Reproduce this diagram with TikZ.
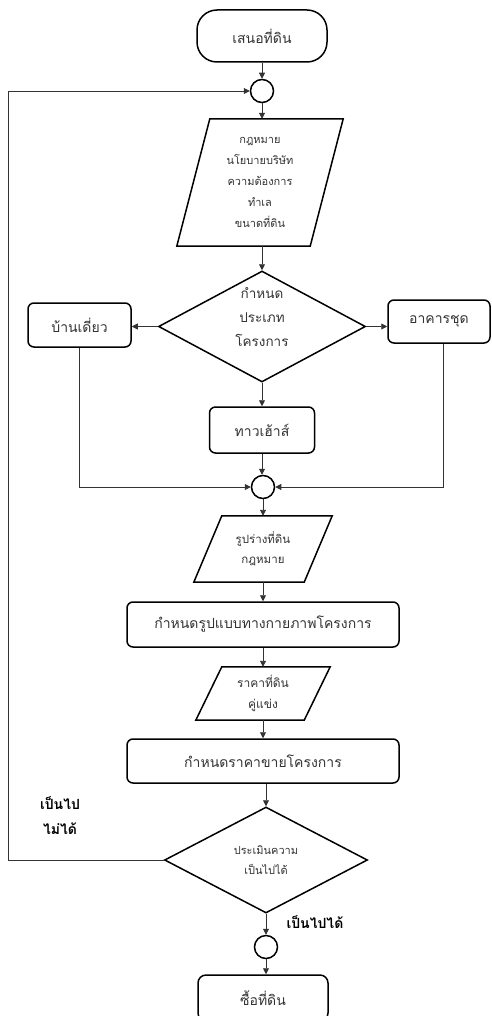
\documentclass[tikz,border=0pt]{standalone}
\usepackage{fontspec}
\newfontfamily\thaifont[Script=Thai]{Loma}
\usetikzlibrary{shapes.geometric,arrows.meta}
\begin{document}
\begin{tikzpicture}[x=1pt,y=-1pt,
  every node/.style={font=\thaifont, text=black!80},
  shapeline/.style={draw=black, line width=1.5pt},
  rbox/.style={shapeline, rounded corners=6pt, inner sep=0pt, font=\thaifont\fontsize{14}{16}\selectfont},
  term/.style={shapeline, rounded corners=20pt, inner sep=0pt, font=\thaifont\fontsize{14}{16}\selectfont},
  junction/.style={shapeline, circle, minimum size=23pt, inner sep=0pt},
  dec/.style={shapeline, diamond, inner sep=0pt, align=center},
  iobox/.style={inner sep=0pt, align=center},
  conn/.style={draw=black!80, line width=0.9pt, -{Triangle[length=6pt,width=6pt]}},
  lbl/.style={font=\thaifont\bfseries\fontsize{14}{25}\selectfont, text=black, align=center}
]
\useasboundingbox (0,0) rectangle (491,1016);

% nodes
\node[term, minimum width=130pt, minimum height=52pt] (start) at (262,36) {เสนอที่ดิน};
\node[junction] (c1) at (262,91) {};
\node[iobox, minimum width=133pt, minimum height=127pt,
      font=\thaifont\fontsize{11}{20.8}\selectfont] (p1) at (260,182.5)
      {กฎหมาย\\นโยบายบริษัท\\ความต้องการ\\ทำเล\\ขนาดที่ดิน};
\node[dec, minimum width=207pt, minimum height=111pt,
      label={[yshift=9pt, align=center, font=\thaifont\fontsize{13.5}{24}\selectfont, text=black!80]center:กำหนด\\ประเภท\\โครงการ}]
      (d1) at (262,326.5) {};
\node[rbox, minimum width=103pt, minimum height=44pt] (b1) at (79.5,325) {บ้านเดี่ยว};
\node[rbox, minimum width=102pt, minimum height=43pt] (b2) at (439,321.5) {อาคารชุด};
\node[rbox, minimum width=105pt, minimum height=46pt] (b3) at (262,430) {ทาวเฮ้าส์};
\node[junction] (c2) at (263,487) {};
\node[iobox, minimum width=110pt, minimum height=66pt,
      font=\thaifont\fontsize{11.5}{20}\selectfont] (p2) at (263,549)
      {รูปร่างที่ดิน\\กฎหมาย};
\node[rbox, minimum width=272pt, minimum height=45pt] (b4) at (263,624.5) {กำหนดรูปแบบทางกายภาพโครงการ};
\node[iobox, minimum width=108pt, minimum height=53pt,
      font=\thaifont\fontsize{12}{21}\selectfont] (p3) at (263,693.5)
      {ราคาที่ดิน\\คู่แข่ง};
\node[rbox, minimum width=272pt, minimum height=44pt] (b5) at (263,761) {กำหนดราคาขายโครงการ};
\node[dec, minimum width=203pt, minimum height=106pt,
      font=\thaifont\fontsize{11}{20}\selectfont] (d2) at (266,860)
      {ประเมินความ\\เป็นไปได้};
\node[junction] (c3) at (266,947) {};
\node[rbox, rounded corners=8pt, minimum width=130pt, minimum height=46pt] (end) at (263,998) {ซื้อที่ดิน};

% parallelogram outlines
\draw[shapeline] ([xshift=16.5pt]p1.north west) -- ([xshift=16.5pt]p1.north east)
  -- ([xshift=-16.5pt]p1.south east) -- ([xshift=-16.5pt]p1.south west) -- cycle;
\draw[shapeline] ([xshift=14pt]p2.north west) -- ([xshift=14pt]p2.north east)
  -- ([xshift=-14pt]p2.south east) -- ([xshift=-14pt]p2.south west) -- cycle;
\draw[shapeline] ([xshift=13pt]p3.north west) -- ([xshift=13pt]p3.north east)
  -- ([xshift=-13pt]p3.south east) -- ([xshift=-13pt]p3.south west) -- cycle;

% labels
\node[lbl] (no) at (60,816) {เป็นไป\\ไม่ได้};
\node[lbl, anchor=west] (yes) at (283,922) {เป็นไปได้};

% connectors
\coordinate (fb) at (8,0);
\draw[conn] (start) -- (c1);
\draw[conn] (c1) -- (c1 |- p1.north);
\draw[conn] (c1 |- p1.south) -- (d1.north);
\draw[conn] (d1.west) -- (b1.east |- d1.west);
\draw[conn] (d1.east) -- (b2.west |- d1.east);
\draw[conn] (d1.south) -- (b3.north);
\draw[conn] (b3.south) -- (b3.south |- c2.north);
\draw[conn] (b1.south) |- (c2.west);
\draw[conn] ([xshift=4pt]b2.south) |- (c2.east);
\draw[conn] (c2) -- (c2 |- p2.north);
\draw[conn] (c2 |- p2.south) -- (b4.north);
\draw[conn] (b4.south) -- (b4.south |- p3.north);
\draw[conn] (b4.south |- p3.south) -- (b5.north);
\draw[conn] ([xshift=3pt]b5.south) -- (d2.north);
\draw[conn] (d2.south) -- (c3.north);
\draw[conn] (c3.south) -- (c3.south |- end.north);
\draw[conn] (d2.west) -- (d2.west -| fb) |- (c1.west);
\end{tikzpicture}
\end{document}
